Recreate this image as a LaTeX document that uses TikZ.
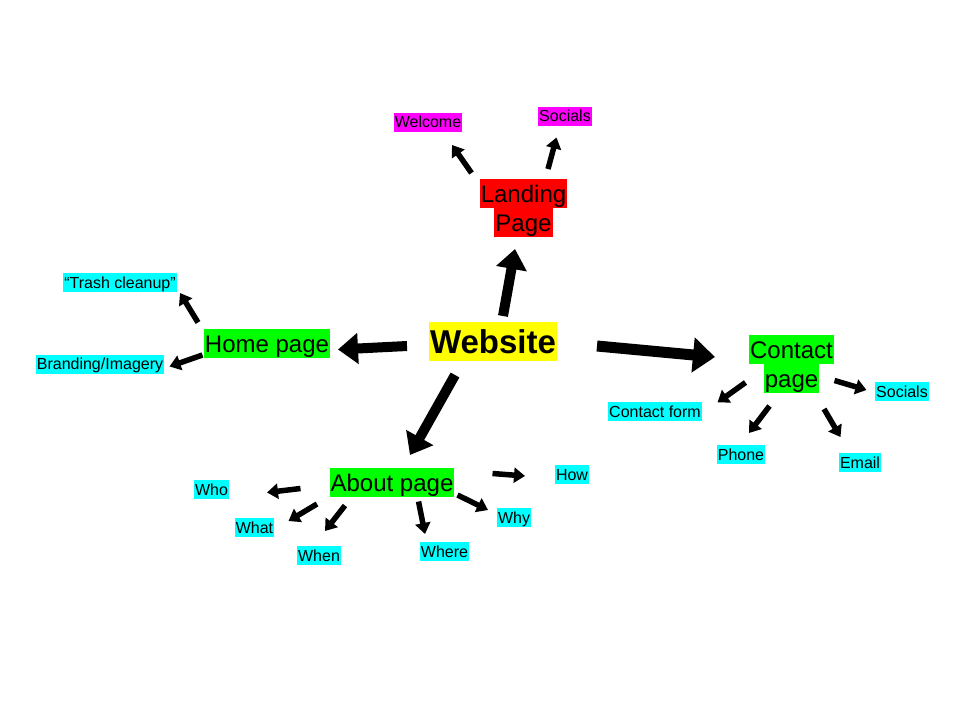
\documentclass[tikz,border=0pt]{standalone}
\usepackage{fontspec}
\setmainfont{Liberation Sans}
\usetikzlibrary{arrows.meta}
\definecolor{hlyellow}{RGB}{255,255,0}
\definecolor{hlred}{RGB}{255,0,0}
\definecolor{hlmag}{RGB}{255,0,255}
\definecolor{hlgreen}{RGB}{0,255,0}
\definecolor{hlcyan}{RGB}{0,255,255}
\newcommand\hlb[2]{{\setlength\fboxsep{0pt}\colorbox{#1}{\kern1pt\rule[-0.2\baselineskip]{0pt}{\baselineskip}#2\kern1pt}}}
\tikzset{
  lone/.style={inner sep=0pt, align=center, font=\fontsize{33}{39}\selectfont\bfseries},
  ltwo/.style={inner sep=0pt, align=center, font=\fontsize{24}{29}\selectfont},
  lthree/.style={inner sep=0pt, align=center, font=\fontsize{16}{19}\selectfont},
  bigarrow/.style={line width=10pt, -{Triangle[length=20pt,width=30pt]}},
  smallarrow/.style={line width=5.5pt, -{Triangle[length=11pt,width=15pt]}},
}
\begin{document}
\begin{tikzpicture}[x=1pt,y=-1pt]
\useasboundingbox (0,0) rectangle (960,720);
% nodes
\node[lone] (web) at (493,341.5) {\hlb{hlyellow}{Website}};
\node[ltwo] (land) at (523.5,208) {\hlb{hlred}{Landing}\\\hlb{hlred}{Page}};
\node[ltwo] (home) at (267,343.5) {\hlb{hlgreen}{Home page}};
\node[ltwo] (about) at (392,482.5) {\hlb{hlgreen}{About page}};
\node[ltwo] (contact) at (791.5,364) {\hlb{hlgreen}{Contact}\\\hlb{hlgreen}{page}};
\node[lthree] (welcome) at (428,122) {\hlb{hlmag}{Welcome}};
\node[lthree] (lsoc) at (565,116) {\hlb{hlmag}{Socials}};
\node[lthree] (trash) at (120,282.5) {\hlb{hlcyan}{“Trash cleanup”}};
\node[lthree] (brand) at (100,364) {\hlb{hlcyan}{Branding/Imagery}};
\node[lthree] (who) at (211.5,489.5) {\hlb{hlcyan}{Who}};
\node[lthree] (what) at (254.5,527.5) {\hlb{hlcyan}{What}};
\node[lthree] (when) at (319,555.5) {\hlb{hlcyan}{When}};
\node[lthree] (where) at (444.5,551.5) {\hlb{hlcyan}{Where}};
\node[lthree] (why) at (514,517.5) {\hlb{hlcyan}{Why}};
\node[lthree] (how) at (572,474.5) {\hlb{hlcyan}{How}};
\node[lthree] (csoc) at (902,391.5) {\hlb{hlcyan}{Socials}};
\node[lthree] (cform) at (655,411.5) {\hlb{hlcyan}{Contact form}};
\node[lthree] (phone) at (741,454.5) {\hlb{hlcyan}{Phone}};
\node[lthree] (email) at (860,462.5) {\hlb{hlcyan}{Email}};
% arrow end points
\coordinate (a-land-s) at (503,316);
\coordinate (a-land-e) at (515,249);
\coordinate (a-home-s) at (407,346);
\coordinate (a-home-e) at (338,349.5);
\coordinate (a-cont-s) at (597,346);
\coordinate (a-cont-e) at (715,357);
\coordinate (a-about-s) at (455,375);
\coordinate (a-about-e) at (410,455);
\coordinate (a-wel-s) at (471.5,173);
\coordinate (a-wel-e) at (452,145);
\coordinate (a-lsoc-s) at (548,169);
\coordinate (a-lsoc-e) at (556.5,137.5);
\coordinate (a-trash-s) at (198,322.5);
\coordinate (a-trash-e) at (180,293);
\coordinate (a-brand-s) at (202.5,355);
\coordinate (a-brand-e) at (169.5,366.5);
\coordinate (a-who-s) at (300.5,488.5);
\coordinate (a-who-e) at (267,492.5);
\coordinate (a-what-s) at (317,504);
\coordinate (a-what-e) at (288.5,521);
\coordinate (a-when-s) at (345,505.5);
\coordinate (a-when-e) at (325,531);
\coordinate (a-where-s) at (418.5,501.5);
\coordinate (a-where-e) at (425,534);
\coordinate (a-why-s) at (457.5,495);
\coordinate (a-why-e) at (488,510);
\coordinate (a-how-s) at (492.5,473.5);
\coordinate (a-how-e) at (525,476);
\coordinate (a-cform-s) at (745.5,382.5);
\coordinate (a-cform-e) at (717.5,402.5);
\coordinate (a-phone-s) at (769.5,406);
\coordinate (a-phone-e) at (749,433);
\coordinate (a-email-s) at (824,409);
\coordinate (a-email-e) at (840.5,437);
\coordinate (a-csoc-s) at (834.5,380.5);
\coordinate (a-csoc-e) at (866.5,390);
% arrows
\draw[bigarrow] (a-land-s) -- (a-land-e);
\draw[bigarrow] (a-home-s) -- (a-home-e);
\draw[bigarrow, line width=11pt, -{Triangle[length=22pt,width=34pt]}] (a-cont-s) -- (a-cont-e);
\draw[bigarrow] (a-about-s) -- (a-about-e);
\draw[smallarrow] (a-wel-s) -- (a-wel-e);
\draw[smallarrow] (a-lsoc-s) -- (a-lsoc-e);
\draw[smallarrow] (a-trash-s) -- (a-trash-e);
\draw[smallarrow] (a-brand-s) -- (a-brand-e);
\draw[smallarrow] (a-who-s) -- (a-who-e);
\draw[smallarrow] (a-what-s) -- (a-what-e);
\draw[smallarrow] (a-when-s) -- (a-when-e);
\draw[smallarrow] (a-where-s) -- (a-where-e);
\draw[smallarrow] (a-why-s) -- (a-why-e);
\draw[smallarrow] (a-how-s) -- (a-how-e);
\draw[smallarrow] (a-cform-s) -- (a-cform-e);
\draw[smallarrow] (a-phone-s) -- (a-phone-e);
\draw[smallarrow] (a-email-s) -- (a-email-e);
\draw[smallarrow] (a-csoc-s) -- (a-csoc-e);
\end{tikzpicture}
\end{document}
